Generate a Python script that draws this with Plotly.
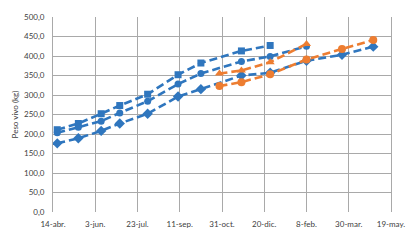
import plotly.graph_objects as go

# ---- data ----
sq_dates = ["2014-04-19", "2014-05-14", "2014-06-10", "2014-07-02", "2014-08-04",
            "2014-09-09", "2014-10-06", "2014-11-23", "2014-12-27"]
sq_vals = [211, 227, 252, 273, 302, 352, 382, 413, 427]

ci_dates = ["2014-04-19", "2014-05-14", "2014-06-10", "2014-07-02", "2014-08-04",
            "2014-09-09", "2014-10-06", "2014-11-23", "2014-12-27", "2015-02-08"]
ci_vals = [203, 217, 233, 254, 284, 328, 355, 386, 399, 425]

di_dates = ["2014-04-19", "2014-05-14", "2014-06-10", "2014-07-02", "2014-08-04",
            "2014-09-09", "2014-10-06", "2014-11-23", "2014-12-27", "2015-02-08",
            "2015-03-22", "2015-04-28"]
di_vals = [176, 189, 208, 227, 252, 296, 315, 350, 357, 388, 403, 424]

tri_dates = ["2014-10-28", "2014-11-23", "2014-12-27", "2015-02-08"]
tri_vals = [355, 363, 384, 431]

oc_dates = ["2014-10-28", "2014-11-23", "2014-12-27", "2015-02-08", "2015-03-22", "2015-04-28"]
oc_vals = [323, 333, 353, 391, 418, 441]

x_tickvals = ["2014-04-14", "2014-06-03", "2014-07-23", "2014-09-11", "2014-10-31",
              "2014-12-20", "2015-02-08", "2015-03-30", "2015-05-19"]
x_ticktext = ["14-abr.", "3-jun.", "23-jul.", "11-sep.", "31-oct.", "20-dic.",
              "8-feb.", "30-mar.", "19-may."]
y_tickvals = [0, 50, 100, 150, 200, 250, 300, 350, 400, 450, 500]
y_ticktext = ["0,0", "50,0", "100,0", "150,0", "200,0", "250,0", "300,0",
              "350,0", "400,0", "450,0", "500,0"]

BLUE = "#2F76BE"
ORANGE = "#ED7D31"
GRID = "#A9A9A9"

fig = go.Figure()

def add(xs, ys, color, symbol, size):
    fig.add_trace(go.Scatter(
        x=xs, y=ys, mode="lines+markers",
        line=dict(color=color, width=2.6, dash="8px,4px"),
        marker=dict(symbol=symbol, size=size, color=color),
        showlegend=False, hoverinfo="skip"))

add(sq_dates, sq_vals, BLUE, "square", 7)
add(ci_dates, ci_vals, BLUE, "circle", 7)
add(di_dates, di_vals, BLUE, "diamond", 8)
add(tri_dates, tri_vals, ORANGE, "triangle-up", 8)
add(oc_dates, oc_vals, ORANGE, "circle", 8)

fig.update_layout(
    width=419, height=241,
    margin=dict(l=53, r=28, t=15, b=28),
    paper_bgcolor="white", plot_bgcolor="white",
    font=dict(family="Lato, Open Sans, sans-serif", size=8, color="#595959"),
    xaxis=dict(
        type="date",
        range=["2014-04-14", "2015-05-19"],
        tickmode="array", tickvals=x_tickvals, ticktext=x_ticktext,
        showgrid=True, gridcolor=GRID, gridwidth=1,
        zeroline=False, showline=False,
        ticks="", ticklabelstandoff=6, tickfont=dict(size=8, color="#404040"),
    ),
    yaxis=dict(
        range=[0, 500],
        tickmode="array", tickvals=y_tickvals, ticktext=y_ticktext,
        showgrid=False,
        minor=dict(tickvals=[50, 100, 150, 200, 250, 300, 350, 400, 450],
                   showgrid=True, gridcolor=GRID, gridwidth=1, ticks=""),
        zeroline=False,
        showline=True, linecolor=GRID, linewidth=1, mirror=True,
        ticks="", ticklabelstandoff=6, tickfont=dict(size=8, color="#404040"),
        title=dict(text="Peso vivo (kg)", font=dict(size=8, color="#404040"), standoff=4),
    ),
)

fig.write_html("out.html")
